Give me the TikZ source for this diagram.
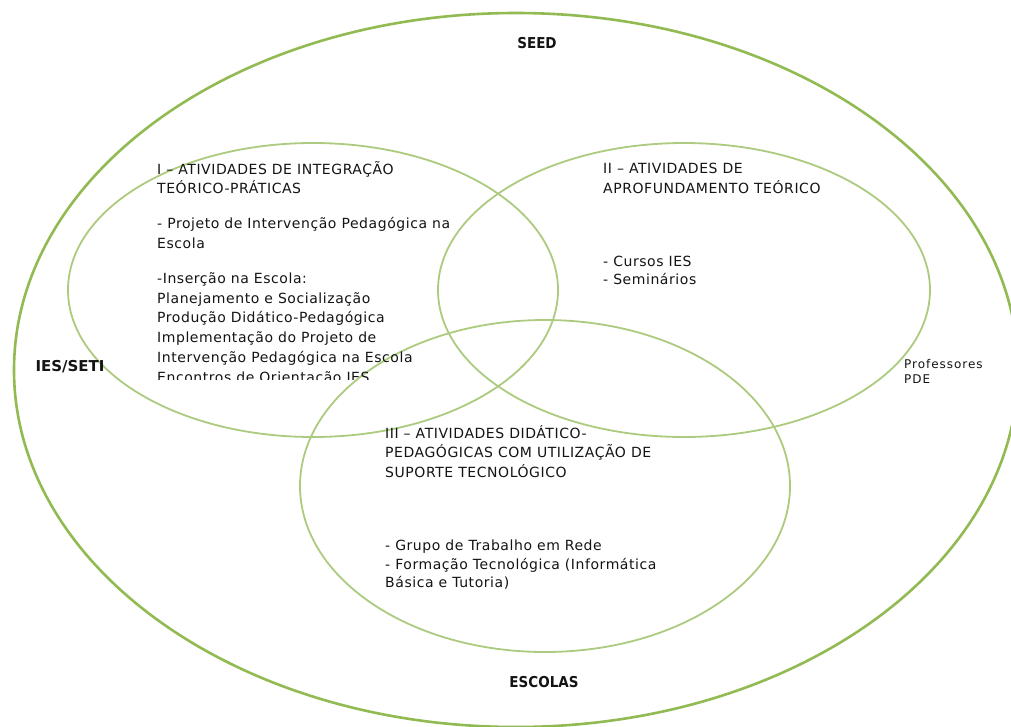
\documentclass[tikz,border=0pt]{standalone}
\usepackage{fontspec}
\setmainfont{DejaVu Sans}[LetterSpace=4]
\newfontfamily\tagfont{DejaVu Sans Condensed}
\definecolor{outergreen}{RGB}{146,186,82}
\definecolor{innergreen}{RGB}{172,203,126}
\definecolor{txt}{RGB}{20,20,20}
\tikzset{
  outerring/.style={draw=outergreen, line width=2.6pt},
  innerring/.style={draw=innergreen, line width=1.8pt},
  body/.style={anchor=north west, align=left, inner sep=0pt, text=txt,
    font=\fontsize{14}{19.8}\selectfont},
  tag/.style={inner sep=0pt, text=txt, font=\tagfont\fontsize{15}{17}\selectfont\bfseries},
  small/.style={anchor=north west, align=left, inner sep=0pt, text=txt,
    font=\fontsize{12}{15}\selectfont\addfontfeatures{LetterSpace=8}}
}
\begin{document}
\begin{tikzpicture}[x=1pt,y=-1pt]
\useasboundingbox[fill=white] (0,0) rectangle (1011,726);
% outer ring
\draw[outerring] (516,370) ellipse [x radius=502, y radius=357];
% inner rings
\draw[innerring] (313,290) ellipse [x radius=245, y radius=147];
\draw[innerring] (684,290) ellipse [x radius=246, y radius=147];
\draw[innerring] (545,486) ellipse [x radius=245, y radius=166];
% labels
\node[tag] (seed) at (537,43) {SEED};
\node[tag] (escolas) at (544,682) {ESCOLAS};
\node[tag, font=\fontsize{15}{17}\selectfont\bfseries\addfontfeatures{LetterSpace=0}] (ies) at (70,367) {IES/SETI};
\node[small] (prof) at (904,359) {Professores\\PDE};
% ellipse I text
\begin{scope}
\clip (140,150) rectangle (480,379);
\node[body] (t1) at (157,161) {I – ATIVIDADES DE INTEGRAÇÃO\\TEÓRICO-PRÁTICAS\\[15pt]
- Projeto de Intervenção Pedagógica na\\Escola\\[15pt]
-Inserção na Escola:\\Planejamento e Socialização\\Produção Didático-Pedagógica\\Implementação do Projeto de\\Intervenção Pedagógica na Escola\\Encontros de Orientação IES.};
\end{scope}
% ellipse II text
\node[body] (t2) at (603,163) {II – ATIVIDADES DE\\APROFUNDAMENTO TEÓRICO};
\node[body, font=\fontsize{14}{18}\selectfont] (t2b) at (603,256) {- Cursos IES\\- Seminários};
% ellipse III text
\node[body] (t3) at (385,425) {III – ATIVIDADES DIDÁTICO-\\PEDAGÓGICAS COM UTILIZAÇÃO DE\\SUPORTE TECNOLÓGICO};
\node[body, font=\fontsize{14}{18.5}\selectfont] (t3b) at (385,540) {- Grupo de Trabalho em Rede\\- Formação Tecnológica (Informática\\Básica e Tutoria)};
\end{tikzpicture}
\end{document}
